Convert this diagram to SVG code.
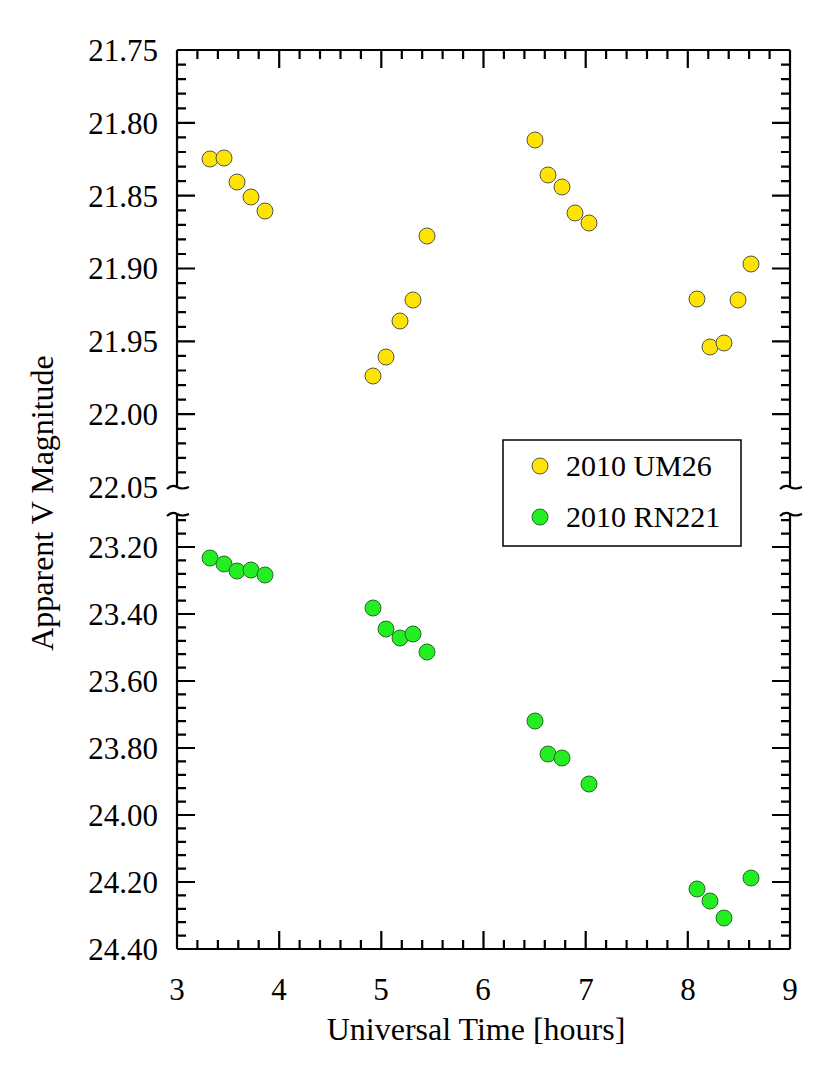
<svg xmlns="http://www.w3.org/2000/svg" width="830" height="1075" viewBox="0 0 830 1075">
<style>
text{font-family:"Liberation Serif","Times New Roman",serif;font-size:31px;fill:#000}
.yl{text-anchor:end}.xl{text-anchor:middle}
.t{font-size:32px}
.lg{font-size:30px}
.ax{stroke:#000;stroke-width:2.2;fill:none}
.y{fill:#ffe400;stroke:#555;stroke-width:1}
.g{fill:#22ee22;stroke:#2a6a2a;stroke-width:1}
</style>
<rect width="830" height="1075" fill="#fff"/>
<g id="axes" class="ax">
<path d="M177,50H790M177,949H790M177,50V487M177,513V949M790,50V487M790,513V949"/>
<path d="M167,489q5,-5 10,-2t12,0M167,516q5,-5 10,-2t12,0M780,489q5,-5 10,-2t12,0M780,516q5,-5 10,-2t12,0"/>
<path d="M279.2,949v-18M381.3,949v-18M483.5,949v-18M585.7,949v-18M687.8,949v-18M279.2,50v18M381.3,50v18M483.5,50v18M585.7,50v18M687.8,50v18"/>
<path d="M197.4,949v-9M217.9,949v-9M238.3,949v-9M258.7,949v-9M299.6,949v-9M320,949v-9M340.5,949v-9M360.9,949v-9M401.8,949v-9M422.2,949v-9M442.6,949v-9M463.1,949v-9M503.9,949v-9M524.4,949v-9M544.8,949v-9M565.2,949v-9M606.1,949v-9M626.6,949v-9M647,949v-9M667.4,949v-9M708.3,949v-9M728.7,949v-9M749.1,949v-9M769.6,949v-9"/>
<path d="M197.4,50v9M217.9,50v9M238.3,50v9M258.7,50v9M299.6,50v9M320,50v9M340.5,50v9M360.9,50v9M401.8,50v9M422.2,50v9M442.6,50v9M463.1,50v9M503.9,50v9M524.4,50v9M544.8,50v9M565.2,50v9M606.1,50v9M626.6,50v9M647,50v9M667.4,50v9M708.3,50v9M728.7,50v9M749.1,50v9M769.6,50v9"/>
<path d="M177,122.8h18M177,195.7h18M177,268.5h18M177,341.3h18M177,414.2h18M177,547h18M177,614h18M177,681h18M177,748h18M177,815h18M177,882h18"/>
<path d="M790,122.8h-18M790,195.7h-18M790,268.5h-18M790,341.3h-18M790,414.2h-18M790,547h-18M790,614h-18M790,681h-18M790,748h-18M790,815h-18M790,882h-18"/>
<path id="mt" d="M177,64.6h9M177,79.1h9M177,93.7h9M177,108.3h9M177,137.4h9M177,152h9M177,166.6h9M177,181.1h9M177,210.3h9M177,224.8h9M177,239.4h9M177,254h9M177,283.1h9M177,297.7h9M177,312.2h9M177,326.8h9M177,355.9h9M177,370.5h9M177,385.1h9M177,399.6h9M177,428.8h9M177,443.3h9M177,457.9h9M177,472.4h9M177,520.2h9M177,533.6h9M177,560.4h9M177,573.8h9M177,587.2h9M177,600.6h9M177,627.4h9M177,640.8h9M177,654.2h9M177,667.6h9M177,694.4h9M177,707.8h9M177,721.2h9M177,734.6h9M177,761.4h9M177,774.8h9M177,788.2h9M177,801.6h9M177,828.4h9M177,841.8h9M177,855.2h9M177,868.6h9M177,895.4h9M177,908.8h9M177,922.2h9M177,935.6h9"/>
<use href="#mt" transform="translate(604,0)"/>
</g>
<g id="ylabels" class="yl">
<text x="158" y="61">21.75</text><text x="158" y="134">21.80</text><text x="158" y="207">21.85</text><text x="158" y="279">21.90</text><text x="158" y="352">21.95</text><text x="158" y="425">22.00</text><text x="158" y="498">22.05</text>
<text x="158" y="558">23.20</text><text x="158" y="625">23.40</text><text x="158" y="692">23.60</text><text x="158" y="759">23.80</text><text x="158" y="826">24.00</text><text x="158" y="893">24.20</text><text x="158" y="960">24.40</text>
</g>
<g id="xlabels" class="xl">
<text x="177" y="1000">3</text><text x="279" y="1000">4</text><text x="381" y="1000">5</text><text x="483" y="1000">6</text><text x="586" y="1000">7</text><text x="688" y="1000">8</text><text x="790" y="1000">9</text>
</g>
<text class="xl t" x="476" y="1040">Universal Time [hours]</text>
<text class="xl t" transform="translate(53,503) rotate(-90)">Apparent V Magnitude</text>
<g id="um26" class="y">
<circle cx="210" cy="159" r="8"/><circle cx="224" cy="158" r="8"/><circle cx="237" cy="182" r="8"/><circle cx="251" cy="197" r="8"/><circle cx="265" cy="211" r="8"/>
<circle cx="373" cy="376" r="8"/><circle cx="386" cy="357" r="8"/><circle cx="400" cy="321" r="8"/><circle cx="413" cy="300" r="8"/><circle cx="427" cy="236" r="8"/>
<circle cx="535" cy="140" r="8"/><circle cx="548" cy="175" r="8"/><circle cx="562" cy="187" r="8"/><circle cx="575" cy="213" r="8"/><circle cx="589" cy="223" r="8"/>
<circle cx="697" cy="299" r="8"/><circle cx="710" cy="347" r="8"/><circle cx="724" cy="343" r="8"/><circle cx="738" cy="300" r="8"/><circle cx="751" cy="264" r="8"/>
</g>
<g id="rn221" class="g">
<circle cx="210" cy="558" r="8"/><circle cx="224" cy="564" r="8"/><circle cx="237" cy="571" r="8"/><circle cx="251" cy="570" r="8"/><circle cx="265" cy="575" r="8"/>
<circle cx="373" cy="608" r="8"/><circle cx="386" cy="629" r="8"/><circle cx="400" cy="638" r="8"/><circle cx="413" cy="634" r="8"/><circle cx="427" cy="652" r="8"/>
<circle cx="535" cy="721" r="8"/><circle cx="548" cy="754" r="8"/><circle cx="562" cy="758" r="8"/><circle cx="589" cy="784" r="8"/>
<circle cx="697" cy="889" r="8"/><circle cx="710" cy="901" r="8"/><circle cx="724" cy="918" r="8"/><circle cx="751" cy="878" r="8"/>
</g>
<g id="legend">
<rect x="503" y="440" width="238" height="106" fill="#fff" stroke="#000" stroke-width="1.5"/>
<circle class="y" cx="540" cy="466" r="8"/><text class="lg" x="566" y="476">2010 UM26</text>
<circle class="g" cx="540" cy="517" r="8"/><text class="lg" x="566" y="527">2010 RN221</text>
</g>
</svg>
